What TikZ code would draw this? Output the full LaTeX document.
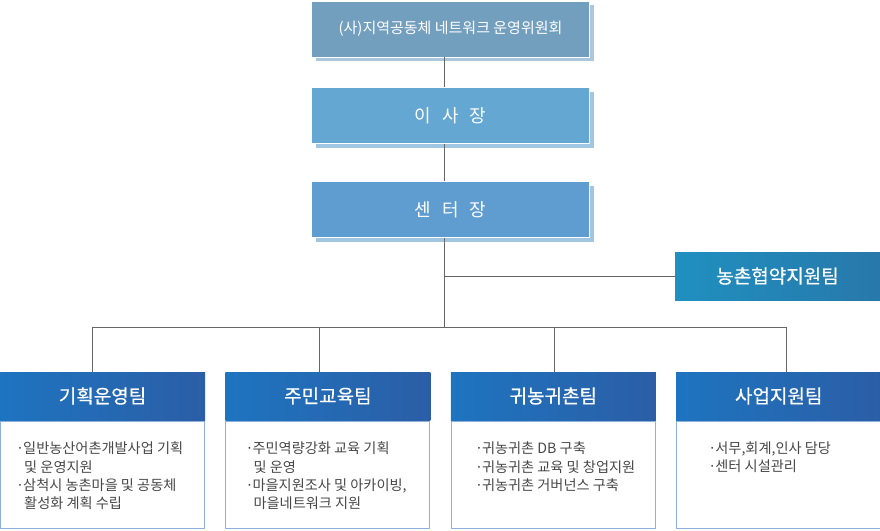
\documentclass[tikz,border=0pt]{standalone}
\usepackage{fontspec}
\setmainfont{Noto Sans CJK KR}
\newfontface\teamfont[FakeBold=0.5]{Noto Sans CJK KR}
\usetikzlibrary{positioning,shadows}
\definecolor{boardblue}{RGB}{115,159,191}
\definecolor{boardshade}{RGB}{170,199,221}
\definecolor{chairblue}{RGB}{99,167,210}
\definecolor{headblue}{RGB}{95,156,208}
\definecolor{chairshade}{RGB}{160,198,226}
\definecolor{sideleft}{RGB}{31,144,192}
\definecolor{sideright}{RGB}{40,120,170}
\definecolor{teamleft}{RGB}{30,116,192}
\definecolor{teamright}{RGB}{43,94,166}
\definecolor{bodyline}{RGB}{143,176,218}
\definecolor{connline}{RGB}{102,102,102}
\definecolor{itemtext}{RGB}{72,72,72}
\newcommand\dotitem{\makebox[7pt][l]{·}}
\newcommand\contline{\hspace*{8pt}}
\begin{document}
\begin{tikzpicture}[x=1pt,y=-1pt,line join=round,font=\fontsize{14.2}{18.3}\selectfont,
  topbox/.style={minimum width=278pt,minimum height=56pt,inner sep=0pt,draw=white,line width=0.8pt,text=white,
    fill=#1,drop shadow={shadow xshift=4pt,shadow yshift=-4pt,fill=chairshade,opacity=1}},
  teambox/.style={minimum width=205pt,minimum height=48pt,inner sep=0pt,text=white,
    left color=teamleft,right color=teamright,font=\teamfont\fontsize{19}{22}\selectfont},
  bodybox/.style={minimum width=204pt,minimum height=107pt,inner sep=0pt,draw=bodyline,line width=1pt,fill=white},
  itembox/.style={anchor=north west,align=left,inner sep=0pt,text=itemtext},
  conn/.style={draw=connline,line width=0.9pt}]
\useasboundingbox (0,0) rectangle (880,530);
% upper chain
\node[topbox=boardblue,font=\fontsize{15}{17}\selectfont,drop shadow={shadow xshift=4pt,shadow yshift=-4pt,fill=boardshade,opacity=1}] (board) at (450.5,29) {(사)지역공동체 네트워크 운영위원회};
\node[topbox=chairblue,below=30pt of board,font=\fontsize{18}{20}\selectfont] (chair) {이\hspace{11pt}사\hspace{11pt}장};
\node[topbox=headblue,below=37pt of chair,font=\fontsize{18}{20}\selectfont] (director) {센\hspace{11pt}터\hspace{11pt}장};
\node[teambox,left color=sideleft,right color=sideright] (side) at (777.5,276) {농촌협약지원팀};
% teams
\node[teambox] (plan) at (102.5,396) {기획운영팀};
\node[teambox,right=20pt of plan] (edu) {주민교육팀};
\node[teambox,right=20pt of edu] (return) {귀농귀촌팀};
\node[teambox,right=20pt of return] (biz) {사업지원팀};
\foreach \t in {plan,edu,return,biz}
  \node[bodybox,below=0.5pt of \t] (\t-body) {};
\node[itembox] (plan-items) at ([xshift=16pt,yshift=-21pt]plan-body.north west)
  {\dotitem 일반농산어촌개발사업 기획\\\contline 및 운영지원\\\dotitem 삼척시 농촌마을 및 공동체\\\contline 활성화 계획 수립};
\node[itembox] (edu-items) at ([xshift=20pt,yshift=-21pt]edu-body.north west)
  {\dotitem 주민역량강화 교육 기획\\\contline 및 운영\\\dotitem 마을지원조사 및 아카이빙,\\\contline 마을네트워크 지원};
\node[itembox] (return-items) at ([xshift=24pt,yshift=-21pt]return-body.north west)
  {\dotitem 귀농귀촌 DB 구축\\\dotitem 귀농귀촌 교육 및 창업지원\\\dotitem 귀농귀촌 거버넌스 구축};
\node[itembox] (biz-items) at ([xshift=32pt,yshift=-21pt]biz-body.north west)
  {\dotitem 서무,회계,인사 담당\\\dotitem 센터 시설관리};
% connectors
\coordinate (trunk) at (444,327);
\draw[conn] (board.south -| trunk) -- (chair.north -| trunk);
\draw[conn] (chair.south -| trunk) -- (director.north -| trunk);
\draw[conn] (director.south -| trunk) -- (trunk);
\draw[conn] (side.west) -- (side.west -| trunk);
\foreach \t/\s in {plan/-10.5,edu/-8.5,return/1.5,biz/7.5}
  \draw[conn] ([xshift=\s pt]\t.north) -- ([xshift=\s pt]\t.north |- trunk);
\draw[conn] ([xshift=-10.5pt]plan.north |- trunk) -- ([xshift=7.5pt]biz.north |- trunk);
\end{tikzpicture}
\end{document}
